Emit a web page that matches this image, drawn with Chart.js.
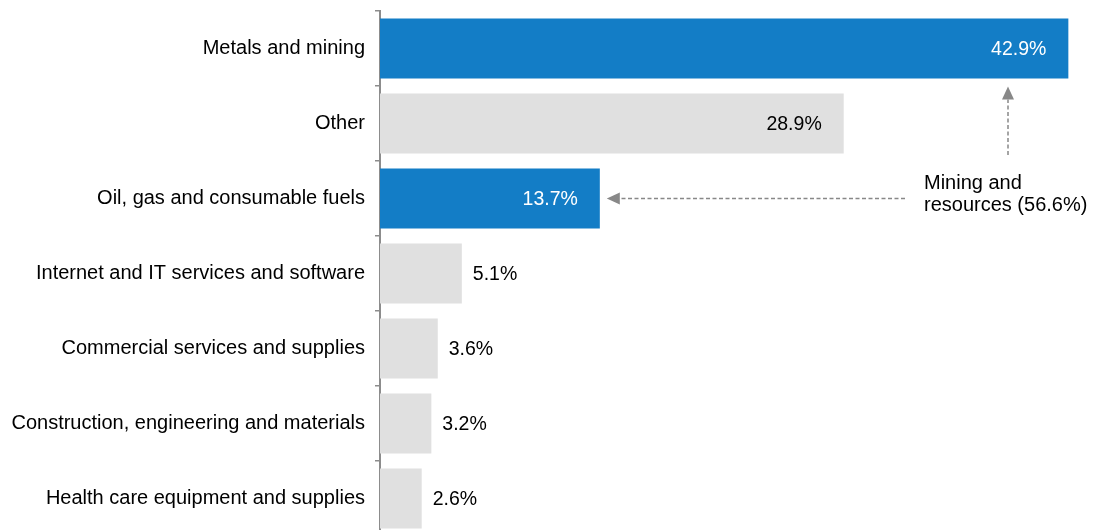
<!DOCTYPE html>
<html>
<head>
<meta charset="utf-8">
<script src="https://cdn.jsdelivr.net/npm/chart.js@4"></script>
<style>
  html, body { margin: 0; padding: 0; background: #fff; overflow: hidden; }
  #wrap { width: 1093px; height: 540px; position: relative; }
</style>
</head>
<body>
<div id="wrap"><canvas id="sectorChart"></canvas></div>
<script>
// sectors, top to bottom
const categories = [
  'Metals and mining',
  'Other',
  'Oil, gas and consumable fuels',
  'Internet and IT services and software',
  'Commercial services and supplies',
  'Construction, engineering and materials',
  'Health care equipment and supplies'
];
const weights = [42.9, 28.9, 13.7, 5.1, 3.6, 3.2, 2.6];
const highlighted = [true, false, true, false, false, false, false];
const calloutLines = ['Mining and', 'resources (56.6%)'];

const BLUE = '#137dc6';
const GREY = '#e0e0e0';
const FONT = '"Liberation Sans", Arial, sans-serif';

// value labels: inside the bar for big ones, outside for small ones
const valueLabels = {
  id: 'valueLabels',
  afterDatasetsDraw(chart) {
    const { ctx } = chart;
    const meta = chart.getDatasetMeta(0);
    ctx.save();
    ctx.font = '19.5px ' + FONT;
    ctx.textBaseline = 'middle';
    meta.data.forEach((bar, i) => {
      const txt = weights[i].toFixed(1) + '%';
      if (weights[i] > 10) {
        ctx.textAlign = 'right';
        ctx.fillStyle = highlighted[i] ? '#ffffff' : '#000000';
        ctx.fillText(txt, bar.x - 22, bar.y + 1);
      } else {
        ctx.textAlign = 'left';
        ctx.fillStyle = '#000000';
        ctx.fillText(txt, bar.x + 11, bar.y + 1);
      }
    });
    ctx.restore();
  }
};

// dashed arrows pointing at the two mining bars + callout text
function dashedArrow(ctx, x1, y1, x2, y2) {
  const ang = Math.atan2(y2 - y1, x2 - x1);
  const head = 13, half = 6;
  const bx = x2 - head * Math.cos(ang), by = y2 - head * Math.sin(ang);
  ctx.beginPath();
  ctx.setLineDash([4, 2.5]);
  ctx.moveTo(x1, y1);
  ctx.lineTo(bx, by);
  ctx.stroke();
  ctx.setLineDash([]);
  ctx.beginPath();
  ctx.moveTo(x2, y2);
  ctx.lineTo(bx + half * Math.sin(ang), by - half * Math.cos(ang));
  ctx.lineTo(bx - half * Math.sin(ang), by + half * Math.cos(ang));
  ctx.closePath();
  ctx.fill();
}

const callout = {
  id: 'callout',
  afterDraw(chart) {
    const { ctx } = chart;
    const meta = chart.getDatasetMeta(0);
    const top = meta.data[0], oil = meta.data[2];
    const textX = 924;
    ctx.save();
    ctx.strokeStyle = '#888888';
    ctx.fillStyle = '#888888';
    ctx.lineWidth = 1.5;
    // horizontal arrow to oil bar
    dashedArrow(ctx, 905, oil.y, oil.x + 7, oil.y);
    // vertical arrow up to metals bar
    const vx = 1008;
    dashedArrow(ctx, vx, 155, vx, top.y + top.height / 2 + 8);
    ctx.fillStyle = '#000000';
    ctx.font = '20px ' + FONT;
    ctx.textAlign = 'left';
    ctx.textBaseline = 'alphabetic';
    ctx.fillText(calloutLines[0], textX, 189);
    ctx.fillText(calloutLines[1], textX, 211);
    ctx.restore();
  }
};

new Chart(document.getElementById('sectorChart'), {
  type: 'bar',
  data: {
    labels: categories,
    datasets: [{
      data: weights,
      backgroundColor: highlighted.map(h => h ? BLUE : GREY),
      borderWidth: 0,
      barPercentage: 0.8,
      categoryPercentage: 1.0
    }]
  },
  options: {
    indexAxis: 'y',
    responsive: true,
    maintainAspectRatio: false,
    animation: false,
    layout: { padding: { top: 11, bottom: 4, left: 0, right: 7 } },
    plugins: {
      legend: { display: false },
      tooltip: { enabled: false }
    },
    scales: {
      x: {
        display: false,
        min: 0,
        max: 44
      },
      y: {
        afterFit(scale) {
          scale.width = 380;
          scale.paddingTop = 0;
          scale.paddingBottom = 0;
        },
        grid: {
          drawOnChartArea: false,
          drawTicks: true,
          tickLength: 5,
          color: '#8c8c8c',
          lineWidth: 1.5
        },
        border: { display: true, color: '#8c8c8c', width: 2 },
        ticks: {
          color: '#000000',
          padding: 10,
          font: { family: FONT, size: 20 }
        }
      }
    }
  },
  plugins: [valueLabels, callout]
});
</script>
</body>
</html>
